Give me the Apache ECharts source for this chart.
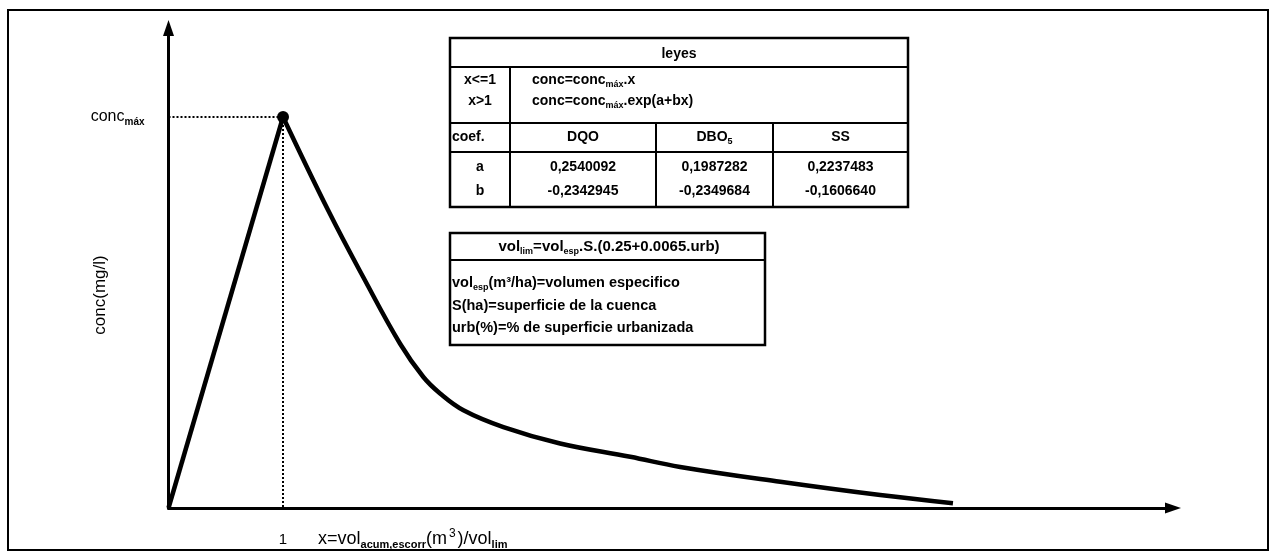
<!DOCTYPE html>
<html>
<head>
<meta charset="utf-8">
<script src="https://cdn.jsdelivr.net/npm/echarts@6/dist/echarts.min.js"></script>
<style>html,body{margin:0;padding:0;background:#fff}#c{width:1276px;height:557px}</style>
</head>
<body>
<div id="c"></div>
<script>
// ---- data ----
var riseX = [0, 1];
var riseY = [0, 1];
var decayX = [1, 1.396, 1.701, 2.022, 2.225, 2.371, 2.575, 2.924, 3.419, 4.031, 4.467, 5.341, 6.214, 6.849];
var decayY = [1, 0.760, 0.590, 0.420, 0.335, 0.293, 0.250, 0.207, 0.165, 0.131, 0.105, 0.067, 0.033, 0.012];
var peak = [1, 1];
var coefNames = ['DQO', 'DBO', 'SS'];
var coefSub = ['', '5', ''];
var coefA = ['0,2540092', '0,1987282', '0,2237483'];
var coefB = ['-0,2342945', '-0,2349684', '-0,1606640'];
var lawCond = ['x<=1', 'x>1'];
var lawTail = ['.x', '.exp(a+bx)'];
var boxRows = [
  ['vol', 'esp', '(m³/ha)=volumen especifico'],
  ['S(ha)=superficie de la cuenca', '', ''],
  ['urb(%)=% de superficie urbanizada', '', '']
];

function pairs(xs, ys) { return xs.map(function (x, i) { return [x, ys[i]]; }); }

var F = '"Liberation Sans", Arial, sans-serif';
var chart = echarts.init(document.getElementById('c'));

function richSet(fs) {
  return {
    n: { fontSize: fs, fontWeight: 'bold', fontFamily: F, color: '#000', lineHeight: fs + 4 },
    s: { fontSize: Math.round(fs * 0.62), fontWeight: 'bold', fontFamily: F, color: '#000', verticalAlign: 'bottom' }
  };
}
function T(x, y, text, align, fs) {
  return {
    type: 'text', x: x, y: y, z: 10,
    style: { text: text, align: align || 'center', verticalAlign: 'middle', fill: '#000', rich: richSet(fs || 14),
      fontSize: fs || 14, fontFamily: F, fontWeight: 'bold' }
  };
}
function L(x1, y1, x2, y2, w) {
  return { type: 'line', z: 10, shape: { x1: x1, y1: y1, x2: x2, y2: y2 }, style: { stroke: '#000', lineWidth: w || 1.5 } };
}
function R(x, y, w, h, lw) {
  return { type: 'rect', z: 9, shape: { x: x, y: y, width: w, height: h }, style: { fill: 'rgba(255,255,255,0)', stroke: '#000', lineWidth: lw || 2 } };
}

var g = [];
// outer frame
g.push(R(8, 10, 1260, 540, 2));
// table "leyes"
var tx0 = 450, tx1 = 908, ty0 = 38, ty1 = 207;
var colX = [450, 510, 656, 773, 908];
g.push(R(tx0, ty0, tx1 - tx0, ty1 - ty0, 2.5));
g.push(L(tx0, 67, tx1, 67, 2));
g.push(L(tx0, 123, tx1, 123, 2));
g.push(L(tx0, 152, tx1, 152, 2));
g.push(L(510, 67, 510, 207, 2));
g.push(L(656, 123, 656, 207, 2));
g.push(L(773, 123, 773, 207, 2));
g.push(T(679, 54, '{n|leyes}'));
var lawY = [80, 101];
lawCond.forEach(function (c, i) {
  g.push(T(480, lawY[i], '{n|' + c + '}'));
  g.push(T(532, lawY[i], '{n|conc=conc}{s|máx}{n|' + lawTail[i] + '}', 'left'));
});
g.push(T(452, 137, '{n|coef.}', 'left'));
g.push(T(480, 167, '{n|a}'));
g.push(T(480, 191, '{n|b}'));
coefNames.forEach(function (nm, i) {
  var cx = (colX[i + 1] + colX[i + 2]) / 2;
  g.push(T(cx, 137, '{n|' + nm + '}' + (coefSub[i] ? '{s|' + coefSub[i] + '}' : '')));
  g.push(T(cx, 167, '{n|' + coefA[i] + '}'));
  g.push(T(cx, 191, '{n|' + coefB[i] + '}'));
});
// box vol_lim
g.push(R(450, 233, 315, 112, 2.5));
g.push(L(450, 260, 765, 260, 2));
g.push(T(609, 247, '{n|vol}{s|lim}{n|=vol}{s|esp}{n|.S.(0.25+0.0065.urb)}', 'center', 15));
var boxY = [283, 306, 328];
boxRows.forEach(function (r, i) {
  var t = '{n|' + r[0] + '}' + (r[1] ? '{s|' + r[1] + '}' : '') + (r[2] ? '{n|' + r[2] + '}' : '');
  g.push(T(452, boxY[i], t, 'left', 14.5));
});
// axis titles
g.push({
  type: 'text', x: 100, y: 295, rotation: Math.PI / 2, z: 10,
  style: { text: 'conc(mg/l)', align: 'center', verticalAlign: 'middle', fill: '#000', fontSize: 17, fontFamily: F }
});
g.push({
  type: 'text', x: 318, y: 539, z: 10,
  style: {
    text: '{n|x=vol}{s|acum,escorr}{n|(m}{p|3}{n|)/vol}{s|lim}', align: 'left', verticalAlign: 'middle',
    rich: {
      n: { fontSize: 18, fontFamily: F, color: '#000', lineHeight: 22 },
      s: { fontSize: 11, fontFamily: F, fontWeight: 'bold', color: '#000', verticalAlign: 'bottom' },
      p: { fontSize: 12, fontFamily: F, color: '#000', verticalAlign: 'top', padding: [0, 2, 0, 2] }
    }
  }
});

chart.setOption({
  animation: false,
  backgroundColor: '#fff',
  grid: { left: 168.5, right: 103, top: 28, bottom: 49, containLabel: false },
  xAxis: {
    type: 'value', min: 0, max: 8.77, interval: 1,
    axisLine: { show: true, onZero: false, symbol: ['none', 'triangle'], symbolSize: [11, 16], lineStyle: { color: '#000', width: 3 } },
    axisTick: { show: false }, splitLine: { show: false },
    axisLabel: { show: true, margin: 24, fontSize: 15, fontFamily: F, color: '#000', showMaxLabel: false,
      formatter: function (v) { return v === 1 ? '1' : ''; } }
  },
  yAxis: {
    type: 'value', min: 0, max: 1.2276, interval: 1,
    axisLine: { show: true, onZero: false, symbol: ['none', 'triangle'], symbolSize: [11, 16], lineStyle: { color: '#000', width: 3 } },
    axisTick: { show: false }, splitLine: { show: false },
    axisLabel: { show: true, margin: 24, showMaxLabel: false,
      formatter: function (v) { return v === 1 ? '{a|conc}{b|máx}' : ''; },
      rich: {
        a: { fontSize: 16, fontFamily: F, color: '#000', lineHeight: 20 },
        b: { fontSize: 10, fontFamily: F, fontWeight: 'bold', color: '#000', verticalAlign: 'bottom' }
      }
    }
  },
  series: [
    {
      type: 'line', data: pairs(riseX, riseY), symbol: 'none',
      lineStyle: { color: '#000', width: 4.5 }, z: 3,
      markLine: {
        silent: true, symbol: 'none', label: { show: false },
        lineStyle: { color: '#000', width: 2, type: [2, 2] },
        data: [
          [{ coord: [0, peak[1]] }, { coord: peak }],
          [{ coord: peak }, { coord: [peak[0], 0] }]
        ]
      }
    },
    {
      type: 'line', data: pairs(decayX, decayY), symbol: 'none', smooth: 0.4,
      lineStyle: { color: '#000', width: 4.5 }, z: 3
    },
    {
      type: 'scatter', data: [peak], symbol: 'circle', symbolSize: 12,
      itemStyle: { color: '#000', opacity: 1 }, z: 5
    }
  ],
  graphic: g
});
</script>
</body>
</html>
